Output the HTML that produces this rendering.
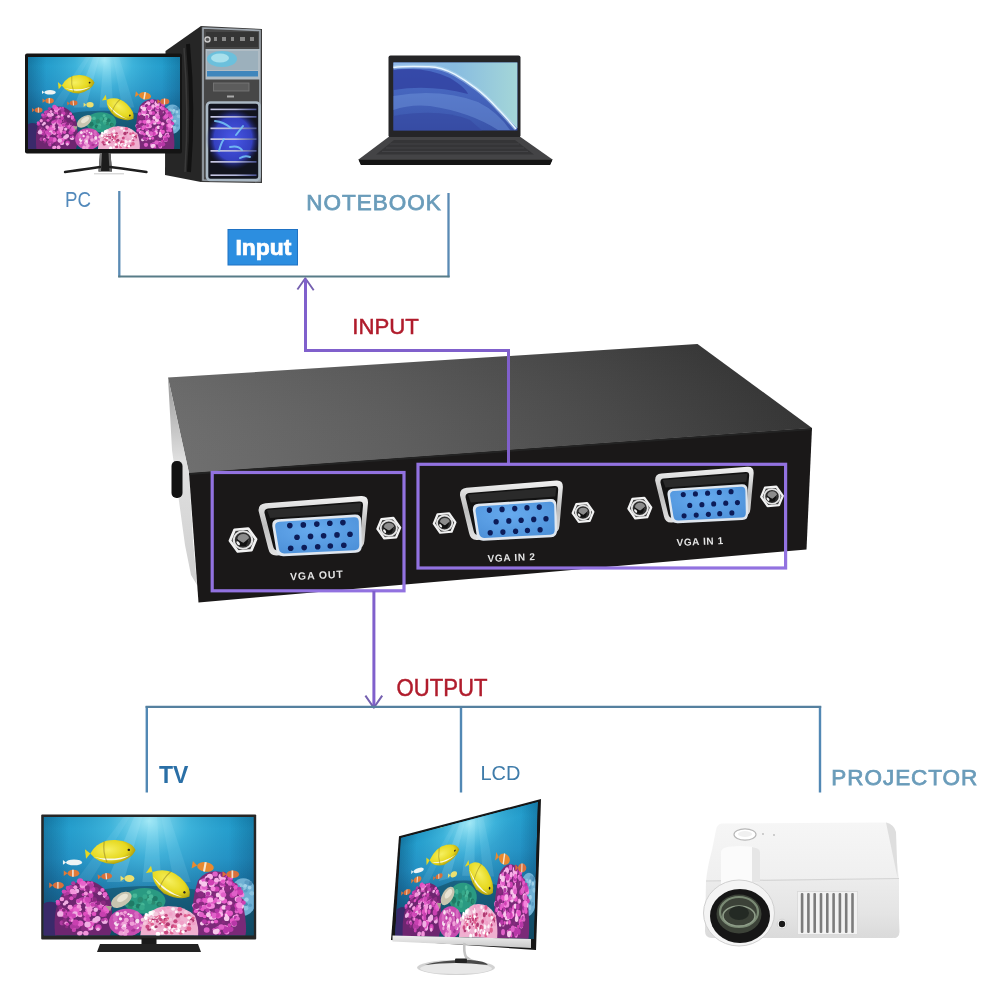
<!DOCTYPE html>
<html><head><meta charset="utf-8"><title>VGA Switch</title>
<style>
html,body{margin:0;padding:0;background:#fff;width:1000px;height:1000px;overflow:hidden}
svg{display:block;filter:blur(0.5px)}
text{font-family:"Liberation Sans",sans-serif}
</style></head><body>
<svg width="1000" height="1000" viewBox="0 0 1000 1000">
<defs>
  <linearGradient id="aqbg" x1="0" y1="0" x2="0" y2="1">
    <stop offset="0" stop-color="#1690c0"/>
    <stop offset="0.1" stop-color="#1c9acb"/>
    <stop offset="0.35" stop-color="#1f8ec2"/>
    <stop offset="0.6" stop-color="#1a72a2"/>
    <stop offset="1" stop-color="#124c6a"/>
  </linearGradient>
  <radialGradient id="aqglow" cx="0.5" cy="0.02" r="0.55" fx="0.5" fy="0.02" gradientTransform="translate(0.5 0) scale(1 1.6) translate(-0.5 0)">
    <stop offset="0" stop-color="#a8ecf8" stop-opacity="0.95"/>
    <stop offset="0.35" stop-color="#58c8e8" stop-opacity="0.55"/>
    <stop offset="1" stop-color="#2a90c0" stop-opacity="0"/>
  </radialGradient>
  <linearGradient id="aqvig" x1="0" y1="0" x2="1" y2="0">
    <stop offset="0" stop-color="#0a3050" stop-opacity="0.3"/>
    <stop offset="0.12" stop-color="#0a3050" stop-opacity="0"/>
    <stop offset="0.88" stop-color="#0a3050" stop-opacity="0"/>
    <stop offset="1" stop-color="#0a3050" stop-opacity="0.25"/>
  </linearGradient>
  <radialGradient id="yfish" cx="0.4" cy="0.4" r="0.6">
    <stop offset="0" stop-color="#f6f060"/>
    <stop offset="0.7" stop-color="#e6d81e"/>
    <stop offset="1" stop-color="#b0a010"/>
  </radialGradient>
  <linearGradient id="lapscr" x1="0" y1="0" x2="0" y2="1">
    <stop offset="0" stop-color="#4a6cc6"/>
    <stop offset="0.5" stop-color="#4564bc"/>
    <stop offset="1" stop-color="#3a54aa"/>
  </linearGradient>
  <linearGradient id="lapsky" x1="0" y1="0" x2="1" y2="0">
    <stop offset="0" stop-color="#90b8e8"/>
    <stop offset="0.5" stop-color="#88bce0"/>
    <stop offset="1" stop-color="#a4d6d8"/>
  </linearGradient>
  <linearGradient id="grill" x1="0" y1="0" x2="1" y2="1">
    <stop offset="0" stop-color="#2434a8"/>
    <stop offset="0.5" stop-color="#3448d0"/>
    <stop offset="1" stop-color="#222e98"/>
  </linearGradient>
  <linearGradient id="projtop" x1="0" y1="0" x2="0" y2="1">
    <stop offset="0" stop-color="#f6f6f6"/>
    <stop offset="1" stop-color="#efefef"/>
  </linearGradient>
  <linearGradient id="projfront" x1="0" y1="0" x2="0" y2="1">
    <stop offset="0" stop-color="#ececec"/>
    <stop offset="0.6" stop-color="#e4e4e4"/>
    <stop offset="1" stop-color="#dadada"/>
  </linearGradient>
  <linearGradient id="bezel" x1="0" y1="0" x2="0" y2="1">
    <stop offset="0" stop-color="#f0f0f0"/>
    <stop offset="1" stop-color="#c8c8c8"/>
  </linearGradient>
  <radialGradient id="grillglow" cx="0.5" cy="0.5" r="0.5">
    <stop offset="0" stop-color="#4858e8"/>
    <stop offset="0.7" stop-color="#3440c0"/>
    <stop offset="1" stop-color="#1a1e60" stop-opacity="0"/>
  </radialGradient>
  <linearGradient id="barg" x1="0" y1="0" x2="1" y2="0">
    <stop offset="0" stop-color="#c8c8e4"/>
    <stop offset="0.55" stop-color="#b0b4d8"/>
    <stop offset="1" stop-color="#4a5290"/>
  </linearGradient>
  <symbol id="aq" viewBox="0 0 1000 600" preserveAspectRatio="none">
<rect width="1000" height="600" fill="url(#aqbg)"/>
<rect width="1000" height="600" fill="url(#aqglow)"/>
<polygon points="430,0 470,0 380,330 300,330" fill="#b8f0ff" opacity="0.18"/>
<polygon points="500,0 540,0 560,330 470,330" fill="#b8f0ff" opacity="0.15"/>
<polygon points="560,0 600,0 700,330 620,330" fill="#b8f0ff" opacity="0.12"/>
<polygon points="380,0 410,0 220,330 150,330" fill="#b8f0ff" opacity="0.1"/>
<rect width="1000" height="600" fill="url(#aqvig)"/>
<ellipse cx="500" cy="580" rx="580" ry="230" fill="#134c62" opacity="0.6"/>
<ellipse cx="480" cy="425" rx="100" ry="65" fill="#2a9a82"/>
<circle cx="464" cy="444" r="13" fill="#36a88a"/>
<circle cx="492" cy="410" r="13" fill="#2a8a70"/>
<circle cx="538" cy="433" r="9" fill="#36a88a"/>
<circle cx="459" cy="421" r="13" fill="#2a8a70"/>
<circle cx="433" cy="394" r="8" fill="#1f7a66"/>
<circle cx="520" cy="433" r="12" fill="#2a8a70"/>
<circle cx="472" cy="445" r="9" fill="#48b898"/>
<circle cx="411" cy="408" r="9" fill="#2a8a70"/>
<circle cx="434" cy="454" r="9" fill="#36a88a"/>
<circle cx="434" cy="399" r="12" fill="#48b898"/>
<circle cx="396" cy="436" r="11" fill="#2a8a70"/>
<circle cx="501" cy="381" r="10" fill="#48b898"/>
<circle cx="397" cy="417" r="14" fill="#48b898"/>
<circle cx="461" cy="416" r="12" fill="#2a8a70"/>
<circle cx="482" cy="404" r="12" fill="#36a88a"/>
<circle cx="504" cy="421" r="12" fill="#48b898"/>
<circle cx="451" cy="452" r="12" fill="#1f7a66"/>
<circle cx="505" cy="432" r="10" fill="#36a88a"/>
<circle cx="550" cy="442" r="13" fill="#1f7a66"/>
<circle cx="468" cy="458" r="13" fill="#36a88a"/>
<circle cx="530" cy="413" r="13" fill="#1f7a66"/>
<circle cx="554" cy="442" r="9" fill="#2a8a70"/>
<circle cx="411" cy="457" r="12" fill="#2a8a70"/>
<circle cx="417" cy="438" r="15" fill="#1f7a66"/>
<circle cx="511" cy="403" r="11" fill="#48b898"/>
<ellipse cx="950" cy="405" rx="65" ry="95" fill="#6fb0d4"/>
<circle cx="936" cy="357" r="9" fill="#8cc4e0"/>
<circle cx="962" cy="442" r="9" fill="#4a8ab4"/>
<circle cx="961" cy="373" r="10" fill="#5a9cc4"/>
<circle cx="921" cy="430" r="11" fill="#5a9cc4"/>
<circle cx="936" cy="348" r="12" fill="#8cc4e0"/>
<circle cx="901" cy="426" r="14" fill="#4a8ab4"/>
<circle cx="922" cy="437" r="11" fill="#4a8ab4"/>
<circle cx="963" cy="413" r="9" fill="#5a9cc4"/>
<circle cx="983" cy="447" r="9" fill="#5a9cc4"/>
<circle cx="898" cy="386" r="12" fill="#8cc4e0"/>
<circle cx="980" cy="358" r="9" fill="#a0d0e8"/>
<circle cx="991" cy="387" r="11" fill="#8cc4e0"/>
<circle cx="982" cy="336" r="11" fill="#4a8ab4"/>
<circle cx="942" cy="435" r="12" fill="#a0d0e8"/>
<circle cx="905" cy="414" r="11" fill="#5a9cc4"/>
<circle cx="988" cy="386" r="9" fill="#8cc4e0"/>
<circle cx="952" cy="359" r="12" fill="#8cc4e0"/>
<circle cx="941" cy="364" r="10" fill="#5a9cc4"/>
<circle cx="934" cy="437" r="11" fill="#a0d0e8"/>
<circle cx="922" cy="355" r="13" fill="#5a9cc4"/>
<circle cx="967" cy="333" r="12" fill="#5a9cc4"/>
<circle cx="962" cy="462" r="12" fill="#8cc4e0"/>
<circle cx="959" cy="348" r="9" fill="#a0d0e8"/>
<circle cx="900" cy="432" r="14" fill="#a0d0e8"/>
<circle cx="965" cy="418" r="11" fill="#a0d0e8"/>
<ellipse cx="30" cy="520" rx="70" ry="90" fill="#3a2a6a"/>
<path d="M55 600 Q40 450 100 375 Q160 305 240 330 Q320 365 325 470 Q335 560 315 600Z" fill="#6e2670"/>
<circle cx="216" cy="562" r="14" fill="#d048b8"/>
<circle cx="88" cy="474" r="14" fill="#e864cc"/>
<circle cx="210" cy="420" r="11" fill="#c840b0"/>
<circle cx="136" cy="468" r="14" fill="#e050c0"/>
<circle cx="292" cy="528" r="13" fill="#f0b0e4"/>
<circle cx="89" cy="536" r="13" fill="#b03aa0"/>
<circle cx="209" cy="459" r="12" fill="#f0b0e4"/>
<circle cx="205" cy="412" r="14" fill="#f0b0e4"/>
<circle cx="147" cy="393" r="12" fill="#b03aa0"/>
<circle cx="299" cy="476" r="13" fill="#e864cc"/>
<circle cx="69" cy="438" r="11" fill="#c840b0"/>
<circle cx="214" cy="405" r="10" fill="#f496dc"/>
<circle cx="79" cy="459" r="10" fill="#8a2a80"/>
<circle cx="204" cy="431" r="13" fill="#f0b0e4"/>
<circle cx="129" cy="356" r="12" fill="#b03aa0"/>
<circle cx="99" cy="441" r="8" fill="#f0b0e4"/>
<circle cx="204" cy="356" r="13" fill="#b03aa0"/>
<circle cx="228" cy="542" r="13" fill="#d048b8"/>
<circle cx="147" cy="546" r="12" fill="#e864cc"/>
<circle cx="210" cy="438" r="9" fill="#d048b8"/>
<circle cx="200" cy="365" r="12" fill="#e864cc"/>
<circle cx="96" cy="497" r="12" fill="#c840b0"/>
<circle cx="158" cy="375" r="12" fill="#f0b0e4"/>
<circle cx="126" cy="457" r="12" fill="#f496dc"/>
<circle cx="292" cy="401" r="9" fill="#f0b0e4"/>
<circle cx="216" cy="496" r="11" fill="#e864cc"/>
<circle cx="149" cy="382" r="9" fill="#f496dc"/>
<circle cx="213" cy="335" r="9" fill="#e050c0"/>
<circle cx="261" cy="559" r="15" fill="#c840b0"/>
<circle cx="187" cy="419" r="14" fill="#b03aa0"/>
<circle cx="302" cy="452" r="9" fill="#8a2a80"/>
<circle cx="267" cy="457" r="11" fill="#e050c0"/>
<circle cx="144" cy="564" r="8" fill="#f0b0e4"/>
<circle cx="172" cy="467" r="10" fill="#f496dc"/>
<circle cx="156" cy="457" r="15" fill="#c840b0"/>
<circle cx="228" cy="452" r="10" fill="#d048b8"/>
<circle cx="232" cy="428" r="13" fill="#8a2a80"/>
<circle cx="248" cy="370" r="15" fill="#8a2a80"/>
<circle cx="259" cy="564" r="12" fill="#e050c0"/>
<circle cx="213" cy="477" r="13" fill="#8a2a80"/>
<circle cx="239" cy="417" r="8" fill="#e864cc"/>
<circle cx="200" cy="423" r="14" fill="#e864cc"/>
<circle cx="184" cy="507" r="8" fill="#8a2a80"/>
<circle cx="246" cy="429" r="9" fill="#c840b0"/>
<circle cx="302" cy="410" r="10" fill="#b03aa0"/>
<circle cx="209" cy="532" r="10" fill="#c840b0"/>
<circle cx="166" cy="552" r="9" fill="#e050c0"/>
<circle cx="229" cy="333" r="8" fill="#d048b8"/>
<circle cx="178" cy="360" r="9" fill="#f0b0e4"/>
<circle cx="190" cy="550" r="13" fill="#8a2a80"/>
<circle cx="137" cy="377" r="14" fill="#f496dc"/>
<circle cx="141" cy="336" r="10" fill="#b03aa0"/>
<circle cx="127" cy="505" r="8" fill="#b03aa0"/>
<circle cx="286" cy="470" r="14" fill="#8a2a80"/>
<circle cx="207" cy="494" r="14" fill="#f496dc"/>
<circle cx="103" cy="395" r="8" fill="#b03aa0"/>
<circle cx="234" cy="535" r="10" fill="#e050c0"/>
<circle cx="279" cy="443" r="10" fill="#f496dc"/>
<circle cx="199" cy="517" r="10" fill="#e864cc"/>
<circle cx="100" cy="475" r="9" fill="#d048b8"/>
<circle cx="283" cy="526" r="9" fill="#d048b8"/>
<circle cx="134" cy="506" r="12" fill="#e864cc"/>
<circle cx="110" cy="410" r="13" fill="#8a2a80"/>
<circle cx="198" cy="346" r="11" fill="#f496dc"/>
<circle cx="172" cy="353" r="8" fill="#8a2a80"/>
<circle cx="177" cy="339" r="9" fill="#d048b8"/>
<circle cx="232" cy="368" r="14" fill="#c840b0"/>
<circle cx="210" cy="474" r="12" fill="#e864cc"/>
<circle cx="128" cy="523" r="8" fill="#d048b8"/>
<circle cx="116" cy="381" r="11" fill="#d048b8"/>
<circle cx="156" cy="470" r="15" fill="#e864cc"/>
<circle cx="171" cy="431" r="13" fill="#f496dc"/>
<circle cx="230" cy="344" r="10" fill="#c840b0"/>
<circle cx="200" cy="568" r="11" fill="#8a2a80"/>
<circle cx="294" cy="520" r="10" fill="#d048b8"/>
<circle cx="114" cy="387" r="9" fill="#b03aa0"/>
<circle cx="138" cy="555" r="13" fill="#b03aa0"/>
<circle cx="219" cy="463" r="10" fill="#e864cc"/>
<circle cx="151" cy="356" r="10" fill="#f496dc"/>
<circle cx="105" cy="480" r="9" fill="#c840b0"/>
<circle cx="174" cy="497" r="11" fill="#f496dc"/>
<circle cx="79" cy="491" r="15" fill="#f0b0e4"/>
<circle cx="266" cy="457" r="14" fill="#c840b0"/>
<circle cx="222" cy="478" r="13" fill="#f496dc"/>
<circle cx="232" cy="446" r="14" fill="#f496dc"/>
<circle cx="267" cy="386" r="10" fill="#f0b0e4"/>
<circle cx="149" cy="493" r="15" fill="#f0b0e4"/>
<circle cx="100" cy="524" r="11" fill="#8a2a80"/>
<circle cx="142" cy="573" r="8" fill="#e050c0"/>
<circle cx="211" cy="420" r="14" fill="#d048b8"/>
<circle cx="243" cy="418" r="11" fill="#8a2a80"/>
<circle cx="98" cy="540" r="9" fill="#8a2a80"/>
<circle cx="192" cy="335" r="10" fill="#d048b8"/>
<circle cx="222" cy="398" r="15" fill="#c840b0"/>
<circle cx="269" cy="444" r="10" fill="#e050c0"/>
<circle cx="206" cy="374" r="8" fill="#8a2a80"/>
<circle cx="292" cy="392" r="12" fill="#e864cc"/>
<circle cx="290" cy="495" r="11" fill="#b03aa0"/>
<circle cx="147" cy="403" r="8" fill="#b03aa0"/>
<circle cx="226" cy="536" r="10" fill="#f496dc"/>
<circle cx="179" cy="327" r="10" fill="#c840b0"/>
<circle cx="159" cy="556" r="11" fill="#b03aa0"/>
<circle cx="167" cy="431" r="12" fill="#f0b0e4"/>
<circle cx="108" cy="432" r="10" fill="#f0b0e4"/>
<circle cx="105" cy="504" r="10" fill="#b03aa0"/>
<circle cx="167" cy="494" r="10" fill="#f496dc"/>
<circle cx="208" cy="403" r="8" fill="#8a2a80"/>
<circle cx="108" cy="538" r="9" fill="#f496dc"/>
<circle cx="172" cy="489" r="10" fill="#e050c0"/>
<circle cx="250" cy="528" r="12" fill="#c840b0"/>
<circle cx="287" cy="530" r="11" fill="#f0b0e4"/>
<circle cx="124" cy="491" r="14" fill="#d048b8"/>
<circle cx="245" cy="523" r="13" fill="#f0b0e4"/>
<circle cx="274" cy="441" r="9" fill="#f0b0e4"/>
<circle cx="249" cy="448" r="9" fill="#b03aa0"/>
<circle cx="259" cy="569" r="9" fill="#f0b0e4"/>
<circle cx="283" cy="521" r="8" fill="#b03aa0"/>
<circle cx="201" cy="589" r="13" fill="#f496dc"/>
<circle cx="284" cy="435" r="12" fill="#8a2a80"/>
<circle cx="175" cy="417" r="8" fill="#c840b0"/>
<circle cx="143" cy="501" r="12" fill="#d048b8"/>
<circle cx="67" cy="429" r="10" fill="#e050c0"/>
<circle cx="116" cy="360" r="11" fill="#c840b0"/>
<circle cx="168" cy="453" r="11" fill="#f496dc"/>
<circle cx="240" cy="480" r="14" fill="#8a2a80"/>
<circle cx="240" cy="491" r="11" fill="#e050c0"/>
<circle cx="191" cy="485" r="10" fill="#8a2a80"/>
<circle cx="137" cy="525" r="8" fill="#f496dc"/>
<circle cx="182" cy="364" r="9" fill="#c840b0"/>
<circle cx="145" cy="573" r="10" fill="#c840b0"/>
<circle cx="177" cy="587" r="9" fill="#f0b0e4"/>
<circle cx="97" cy="378" r="11" fill="#d048b8"/>
<circle cx="233" cy="444" r="11" fill="#c840b0"/>
<circle cx="283" cy="475" r="11" fill="#d048b8"/>
<circle cx="222" cy="543" r="13" fill="#e050c0"/>
<circle cx="174" cy="326" r="15" fill="#e050c0"/>
<circle cx="225" cy="562" r="12" fill="#f0b0e4"/>
<circle cx="288" cy="482" r="11" fill="#e050c0"/>
<circle cx="271" cy="452" r="9" fill="#e864cc"/>
<circle cx="174" cy="539" r="15" fill="#e864cc"/>
<circle cx="87" cy="416" r="11" fill="#f496dc"/>
<circle cx="224" cy="380" r="8" fill="#f0b0e4"/>
<circle cx="219" cy="554" r="11" fill="#e050c0"/>
<circle cx="110" cy="556" r="8" fill="#8a2a80"/>
<circle cx="189" cy="567" r="11" fill="#8a2a80"/>
<circle cx="219" cy="467" r="14" fill="#f496dc"/>
<circle cx="199" cy="492" r="12" fill="#e050c0"/>
<circle cx="171" cy="591" r="12" fill="#f496dc"/>
<circle cx="186" cy="348" r="14" fill="#f496dc"/>
<circle cx="297" cy="463" r="14" fill="#e864cc"/>
<circle cx="248" cy="470" r="11" fill="#f0b0e4"/>
<circle cx="262" cy="436" r="10" fill="#8a2a80"/>
<circle cx="206" cy="415" r="11" fill="#d048b8"/>
<circle cx="223" cy="350" r="14" fill="#b03aa0"/>
<circle cx="132" cy="412" r="10" fill="#e050c0"/>
<circle cx="208" cy="358" r="12" fill="#8a2a80"/>
<circle cx="189" cy="393" r="8" fill="#d048b8"/>
<circle cx="96" cy="471" r="9" fill="#8a2a80"/>
<circle cx="280" cy="370" r="10" fill="#e864cc"/>
<circle cx="209" cy="545" r="15" fill="#f0b0e4"/>
<circle cx="209" cy="504" r="11" fill="#c840b0"/>
<circle cx="187" cy="336" r="13" fill="#e864cc"/>
<circle cx="201" cy="388" r="10" fill="#f496dc"/>
<circle cx="113" cy="543" r="9" fill="#c840b0"/>
<circle cx="212" cy="520" r="10" fill="#c840b0"/>
<circle cx="152" cy="535" r="15" fill="#c840b0"/>
<circle cx="165" cy="425" r="11" fill="#d048b8"/>
<circle cx="257" cy="516" r="14" fill="#f0b0e4"/>
<circle cx="210" cy="446" r="10" fill="#e864cc"/>
<circle cx="280" cy="493" r="14" fill="#c840b0"/>
<ellipse cx="395" cy="535" rx="85" ry="70" fill="#c84cb0"/>
<circle cx="436" cy="519" r="12" fill="#a83494"/>
<circle cx="342" cy="503" r="11" fill="#d868c0"/>
<circle cx="441" cy="564" r="10" fill="#c44cb0"/>
<circle cx="438" cy="543" r="6" fill="#f0a0d8"/>
<circle cx="457" cy="547" r="12" fill="#d868c0"/>
<circle cx="415" cy="500" r="9" fill="#f8e0f0"/>
<circle cx="382" cy="560" r="12" fill="#f8e0f0"/>
<circle cx="347" cy="539" r="12" fill="#f8e0f0"/>
<circle cx="426" cy="571" r="11" fill="#a83494"/>
<circle cx="379" cy="499" r="8" fill="#f0a0d8"/>
<circle cx="380" cy="542" r="11" fill="#f0a0d8"/>
<circle cx="386" cy="539" r="11" fill="#f0a0d8"/>
<circle cx="366" cy="505" r="9" fill="#d868c0"/>
<circle cx="368" cy="545" r="7" fill="#d868c0"/>
<circle cx="336" cy="566" r="9" fill="#c44cb0"/>
<circle cx="407" cy="545" r="7" fill="#a83494"/>
<circle cx="445" cy="560" r="9" fill="#f8e0f0"/>
<circle cx="416" cy="566" r="7" fill="#c44cb0"/>
<circle cx="417" cy="526" r="9" fill="#c44cb0"/>
<circle cx="373" cy="587" r="6" fill="#a83494"/>
<circle cx="372" cy="578" r="10" fill="#d868c0"/>
<circle cx="444" cy="508" r="12" fill="#c44cb0"/>
<circle cx="351" cy="492" r="10" fill="#f8e0f0"/>
<circle cx="434" cy="490" r="7" fill="#c44cb0"/>
<circle cx="465" cy="550" r="7" fill="#f0a0d8"/>
<circle cx="422" cy="556" r="11" fill="#c44cb0"/>
<circle cx="449" cy="546" r="11" fill="#d868c0"/>
<circle cx="374" cy="505" r="9" fill="#a83494"/>
<circle cx="339" cy="520" r="8" fill="#a83494"/>
<circle cx="382" cy="563" r="9" fill="#f0a0d8"/>
<circle cx="348" cy="548" r="6" fill="#f8e0f0"/>
<circle cx="446" cy="531" r="9" fill="#f8e0f0"/>
<circle cx="405" cy="495" r="7" fill="#a83494"/>
<circle cx="379" cy="544" r="9" fill="#f0a0d8"/>
<circle cx="437" cy="557" r="10" fill="#d868c0"/>
<circle cx="421" cy="540" r="12" fill="#f0a0d8"/>
<circle cx="404" cy="493" r="6" fill="#f8e0f0"/>
<circle cx="443" cy="505" r="11" fill="#d868c0"/>
<circle cx="442" cy="488" r="11" fill="#d868c0"/>
<circle cx="421" cy="591" r="9" fill="#c44cb0"/>
<circle cx="370" cy="488" r="8" fill="#f0a0d8"/>
<circle cx="366" cy="516" r="8" fill="#f8e0f0"/>
<circle cx="384" cy="589" r="7" fill="#f8e0f0"/>
<circle cx="446" cy="526" r="10" fill="#f8e0f0"/>
<circle cx="353" cy="534" r="6" fill="#c44cb0"/>
<circle cx="346" cy="562" r="8" fill="#f0a0d8"/>
<circle cx="419" cy="520" r="11" fill="#d868c0"/>
<circle cx="397" cy="522" r="12" fill="#a83494"/>
<circle cx="341" cy="519" r="12" fill="#d868c0"/>
<circle cx="394" cy="579" r="12" fill="#f0a0d8"/>
<circle cx="388" cy="594" r="10" fill="#f0a0d8"/>
<circle cx="385" cy="550" r="8" fill="#f8e0f0"/>
<circle cx="394" cy="522" r="12" fill="#f0a0d8"/>
<circle cx="368" cy="590" r="12" fill="#f0a0d8"/>
<circle cx="388" cy="483" r="8" fill="#f0a0d8"/>
<path d="M715 600 Q695 440 735 320 Q785 255 860 285 Q930 330 950 450 Q970 560 960 600Z" fill="#7a2a78"/>
<circle cx="777" cy="372" r="12" fill="#e858c8"/>
<circle cx="873" cy="495" r="13" fill="#e858c8"/>
<circle cx="919" cy="479" r="10" fill="#e060c8"/>
<circle cx="761" cy="419" r="10" fill="#d040b4"/>
<circle cx="861" cy="557" r="11" fill="#d040b4"/>
<circle cx="940" cy="452" r="13" fill="#f8c8ec"/>
<circle cx="913" cy="510" r="14" fill="#fab0e8"/>
<circle cx="785" cy="486" r="8" fill="#e060c8"/>
<circle cx="761" cy="374" r="12" fill="#f8c8ec"/>
<circle cx="836" cy="587" r="8" fill="#e858c8"/>
<circle cx="787" cy="482" r="8" fill="#f484dc"/>
<circle cx="922" cy="449" r="15" fill="#d040b4"/>
<circle cx="762" cy="498" r="12" fill="#8a2a80"/>
<circle cx="854" cy="380" r="10" fill="#fab0e8"/>
<circle cx="752" cy="330" r="13" fill="#f8c8ec"/>
<circle cx="833" cy="428" r="14" fill="#f8c8ec"/>
<circle cx="919" cy="501" r="9" fill="#f484dc"/>
<circle cx="828" cy="564" r="9" fill="#fab0e8"/>
<circle cx="820" cy="362" r="12" fill="#8a2a80"/>
<circle cx="791" cy="303" r="15" fill="#fab0e8"/>
<circle cx="762" cy="321" r="10" fill="#e858c8"/>
<circle cx="889" cy="569" r="14" fill="#b838a8"/>
<circle cx="931" cy="394" r="10" fill="#8a2a80"/>
<circle cx="808" cy="507" r="14" fill="#f8c8ec"/>
<circle cx="750" cy="460" r="8" fill="#e858c8"/>
<circle cx="742" cy="491" r="12" fill="#fab0e8"/>
<circle cx="853" cy="346" r="12" fill="#d040b4"/>
<circle cx="847" cy="460" r="9" fill="#d040b4"/>
<circle cx="810" cy="488" r="8" fill="#e858c8"/>
<circle cx="896" cy="535" r="8" fill="#f484dc"/>
<circle cx="832" cy="400" r="12" fill="#e060c8"/>
<circle cx="871" cy="584" r="12" fill="#f484dc"/>
<circle cx="910" cy="348" r="13" fill="#8a2a80"/>
<circle cx="877" cy="484" r="9" fill="#e858c8"/>
<circle cx="942" cy="394" r="13" fill="#f484dc"/>
<circle cx="878" cy="330" r="10" fill="#f484dc"/>
<circle cx="906" cy="542" r="13" fill="#fab0e8"/>
<circle cx="803" cy="532" r="8" fill="#fab0e8"/>
<circle cx="858" cy="425" r="13" fill="#e060c8"/>
<circle cx="846" cy="321" r="11" fill="#fab0e8"/>
<circle cx="820" cy="422" r="11" fill="#8a2a80"/>
<circle cx="798" cy="434" r="11" fill="#e858c8"/>
<circle cx="782" cy="423" r="14" fill="#f484dc"/>
<circle cx="779" cy="403" r="11" fill="#b838a8"/>
<circle cx="811" cy="570" r="8" fill="#e060c8"/>
<circle cx="752" cy="446" r="14" fill="#d040b4"/>
<circle cx="924" cy="416" r="15" fill="#fab0e8"/>
<circle cx="794" cy="411" r="14" fill="#b838a8"/>
<circle cx="796" cy="441" r="12" fill="#f484dc"/>
<circle cx="718" cy="449" r="12" fill="#f484dc"/>
<circle cx="786" cy="373" r="11" fill="#8a2a80"/>
<circle cx="914" cy="356" r="11" fill="#e858c8"/>
<circle cx="790" cy="501" r="11" fill="#d040b4"/>
<circle cx="754" cy="540" r="10" fill="#f8c8ec"/>
<circle cx="899" cy="525" r="13" fill="#e858c8"/>
<circle cx="796" cy="512" r="9" fill="#f8c8ec"/>
<circle cx="782" cy="326" r="9" fill="#f8c8ec"/>
<circle cx="813" cy="367" r="10" fill="#e060c8"/>
<circle cx="727" cy="474" r="10" fill="#b838a8"/>
<circle cx="824" cy="574" r="14" fill="#d040b4"/>
<circle cx="816" cy="289" r="13" fill="#e060c8"/>
<circle cx="871" cy="515" r="9" fill="#f484dc"/>
<circle cx="884" cy="548" r="9" fill="#d040b4"/>
<circle cx="940" cy="426" r="13" fill="#8a2a80"/>
<circle cx="829" cy="491" r="14" fill="#fab0e8"/>
<circle cx="855" cy="533" r="8" fill="#8a2a80"/>
<circle cx="883" cy="359" r="10" fill="#fab0e8"/>
<circle cx="792" cy="453" r="12" fill="#8a2a80"/>
<circle cx="893" cy="443" r="14" fill="#8a2a80"/>
<circle cx="890" cy="336" r="13" fill="#b838a8"/>
<circle cx="795" cy="328" r="11" fill="#e060c8"/>
<circle cx="829" cy="569" r="14" fill="#b838a8"/>
<circle cx="855" cy="312" r="12" fill="#fab0e8"/>
<circle cx="883" cy="353" r="8" fill="#8a2a80"/>
<circle cx="740" cy="426" r="14" fill="#e060c8"/>
<circle cx="848" cy="345" r="11" fill="#f484dc"/>
<circle cx="919" cy="467" r="9" fill="#b838a8"/>
<circle cx="798" cy="434" r="12" fill="#b838a8"/>
<circle cx="818" cy="331" r="12" fill="#e060c8"/>
<circle cx="760" cy="427" r="15" fill="#b838a8"/>
<circle cx="885" cy="436" r="12" fill="#f484dc"/>
<circle cx="823" cy="320" r="12" fill="#fab0e8"/>
<circle cx="824" cy="537" r="8" fill="#8a2a80"/>
<circle cx="916" cy="378" r="13" fill="#fab0e8"/>
<circle cx="885" cy="494" r="11" fill="#b838a8"/>
<circle cx="951" cy="434" r="11" fill="#d040b4"/>
<circle cx="907" cy="539" r="14" fill="#b838a8"/>
<circle cx="748" cy="462" r="10" fill="#d040b4"/>
<circle cx="778" cy="539" r="14" fill="#8a2a80"/>
<circle cx="772" cy="457" r="12" fill="#d040b4"/>
<circle cx="850" cy="336" r="13" fill="#b838a8"/>
<circle cx="827" cy="534" r="10" fill="#8a2a80"/>
<circle cx="800" cy="343" r="14" fill="#fab0e8"/>
<circle cx="775" cy="538" r="10" fill="#f8c8ec"/>
<circle cx="750" cy="494" r="13" fill="#e060c8"/>
<circle cx="872" cy="510" r="11" fill="#f484dc"/>
<circle cx="888" cy="310" r="13" fill="#d040b4"/>
<circle cx="767" cy="423" r="12" fill="#e858c8"/>
<circle cx="843" cy="480" r="10" fill="#f484dc"/>
<circle cx="739" cy="372" r="9" fill="#f8c8ec"/>
<circle cx="809" cy="490" r="14" fill="#d040b4"/>
<circle cx="759" cy="358" r="15" fill="#f484dc"/>
<circle cx="780" cy="312" r="14" fill="#fab0e8"/>
<circle cx="867" cy="562" r="12" fill="#f8c8ec"/>
<circle cx="816" cy="393" r="9" fill="#8a2a80"/>
<circle cx="839" cy="498" r="11" fill="#e858c8"/>
<circle cx="723" cy="454" r="13" fill="#b838a8"/>
<circle cx="748" cy="441" r="14" fill="#e858c8"/>
<circle cx="871" cy="514" r="13" fill="#f8c8ec"/>
<circle cx="780" cy="318" r="11" fill="#8a2a80"/>
<circle cx="932" cy="440" r="9" fill="#e060c8"/>
<circle cx="822" cy="420" r="12" fill="#e060c8"/>
<circle cx="848" cy="396" r="11" fill="#d040b4"/>
<circle cx="933" cy="468" r="12" fill="#e060c8"/>
<circle cx="914" cy="510" r="10" fill="#b838a8"/>
<circle cx="820" cy="529" r="10" fill="#e858c8"/>
<circle cx="865" cy="366" r="14" fill="#8a2a80"/>
<circle cx="776" cy="573" r="14" fill="#e060c8"/>
<circle cx="929" cy="420" r="14" fill="#e060c8"/>
<circle cx="870" cy="562" r="9" fill="#f484dc"/>
<circle cx="840" cy="410" r="13" fill="#8a2a80"/>
<circle cx="810" cy="430" r="10" fill="#e858c8"/>
<circle cx="937" cy="480" r="11" fill="#e858c8"/>
<circle cx="862" cy="297" r="12" fill="#d040b4"/>
<circle cx="766" cy="347" r="12" fill="#f484dc"/>
<circle cx="857" cy="563" r="11" fill="#d040b4"/>
<circle cx="875" cy="479" r="8" fill="#f484dc"/>
<circle cx="917" cy="375" r="11" fill="#d040b4"/>
<circle cx="855" cy="327" r="10" fill="#fab0e8"/>
<circle cx="844" cy="466" r="8" fill="#e858c8"/>
<circle cx="750" cy="442" r="14" fill="#8a2a80"/>
<circle cx="734" cy="372" r="11" fill="#e858c8"/>
<circle cx="796" cy="332" r="15" fill="#d040b4"/>
<circle cx="760" cy="455" r="9" fill="#f8c8ec"/>
<circle cx="846" cy="499" r="8" fill="#e858c8"/>
<circle cx="931" cy="447" r="15" fill="#f484dc"/>
<circle cx="843" cy="493" r="11" fill="#fab0e8"/>
<circle cx="824" cy="365" r="13" fill="#d040b4"/>
<circle cx="898" cy="396" r="13" fill="#d040b4"/>
<circle cx="831" cy="395" r="12" fill="#f8c8ec"/>
<circle cx="725" cy="477" r="10" fill="#e858c8"/>
<circle cx="832" cy="424" r="8" fill="#f484dc"/>
<circle cx="784" cy="496" r="12" fill="#f8c8ec"/>
<circle cx="784" cy="385" r="15" fill="#f8c8ec"/>
<circle cx="788" cy="452" r="15" fill="#f484dc"/>
<circle cx="773" cy="534" r="12" fill="#8a2a80"/>
<circle cx="732" cy="460" r="11" fill="#fab0e8"/>
<circle cx="854" cy="326" r="10" fill="#e858c8"/>
<circle cx="766" cy="353" r="14" fill="#e060c8"/>
<circle cx="904" cy="343" r="8" fill="#d040b4"/>
<circle cx="782" cy="389" r="11" fill="#b838a8"/>
<circle cx="765" cy="530" r="12" fill="#b838a8"/>
<circle cx="857" cy="363" r="8" fill="#fab0e8"/>
<circle cx="830" cy="501" r="14" fill="#e858c8"/>
<circle cx="824" cy="496" r="14" fill="#d040b4"/>
<circle cx="819" cy="581" r="14" fill="#f8c8ec"/>
<circle cx="815" cy="477" r="12" fill="#8a2a80"/>
<circle cx="866" cy="568" r="15" fill="#b838a8"/>
<circle cx="825" cy="475" r="11" fill="#b838a8"/>
<circle cx="916" cy="387" r="8" fill="#8a2a80"/>
<circle cx="801" cy="451" r="14" fill="#f484dc"/>
<circle cx="845" cy="557" r="14" fill="#e060c8"/>
<circle cx="745" cy="457" r="9" fill="#b838a8"/>
<circle cx="924" cy="516" r="10" fill="#e060c8"/>
<circle cx="766" cy="504" r="9" fill="#e858c8"/>
<circle cx="908" cy="389" r="14" fill="#e060c8"/>
<circle cx="765" cy="338" r="9" fill="#e858c8"/>
<circle cx="787" cy="532" r="8" fill="#e858c8"/>
<circle cx="866" cy="579" r="12" fill="#b838a8"/>
<circle cx="827" cy="576" r="11" fill="#f8c8ec"/>
<circle cx="847" cy="301" r="15" fill="#fab0e8"/>
<circle cx="873" cy="365" r="15" fill="#8a2a80"/>
<circle cx="858" cy="458" r="12" fill="#f8c8ec"/>
<circle cx="727" cy="452" r="14" fill="#8a2a80"/>
<circle cx="923" cy="379" r="9" fill="#e060c8"/>
<circle cx="748" cy="391" r="15" fill="#8a2a80"/>
<circle cx="880" cy="570" r="11" fill="#b838a8"/>
<circle cx="890" cy="436" r="8" fill="#fab0e8"/>
<circle cx="862" cy="426" r="12" fill="#e858c8"/>
<circle cx="848" cy="411" r="14" fill="#f8c8ec"/>
<circle cx="877" cy="460" r="13" fill="#b838a8"/>
<circle cx="806" cy="364" r="12" fill="#f484dc"/>
<circle cx="764" cy="457" r="11" fill="#e060c8"/>
<circle cx="787" cy="447" r="10" fill="#d040b4"/>
<circle cx="931" cy="365" r="11" fill="#b838a8"/>
<circle cx="849" cy="381" r="14" fill="#f484dc"/>
<circle cx="936" cy="382" r="14" fill="#d040b4"/>
<circle cx="855" cy="291" r="14" fill="#8a2a80"/>
<circle cx="886" cy="337" r="11" fill="#e060c8"/>
<circle cx="810" cy="507" r="9" fill="#e060c8"/>
<circle cx="870" cy="497" r="8" fill="#f8c8ec"/>
<circle cx="793" cy="421" r="14" fill="#fab0e8"/>
<circle cx="784" cy="478" r="8" fill="#fab0e8"/>
<circle cx="811" cy="495" r="11" fill="#e060c8"/>
<circle cx="756" cy="469" r="9" fill="#e858c8"/>
<circle cx="764" cy="339" r="14" fill="#f8c8ec"/>
<circle cx="856" cy="394" r="13" fill="#e060c8"/>
<circle cx="780" cy="473" r="10" fill="#b838a8"/>
<circle cx="887" cy="488" r="14" fill="#e858c8"/>
<circle cx="893" cy="307" r="9" fill="#e858c8"/>
<path d="M460 600 Q470 480 560 455 Q660 440 720 500 Q740 560 735 600Z" fill="#f0b0d0"/>
<circle cx="512" cy="548" r="9" fill="#e06090"/>
<circle cx="709" cy="531" r="9" fill="#f4c8dc"/>
<circle cx="579" cy="541" r="8" fill="#f0a0c8"/>
<circle cx="553" cy="519" r="7" fill="#b03870"/>
<circle cx="601" cy="559" r="10" fill="#b03870"/>
<circle cx="678" cy="559" r="9" fill="#f0a0c8"/>
<circle cx="616" cy="553" r="10" fill="#c84880"/>
<circle cx="631" cy="481" r="7" fill="#fbeef4"/>
<circle cx="563" cy="483" r="11" fill="#fbeef4"/>
<circle cx="522" cy="525" r="8" fill="#c84880"/>
<circle cx="653" cy="493" r="6" fill="#b03870"/>
<circle cx="480" cy="540" r="8" fill="#f4c8dc"/>
<circle cx="481" cy="503" r="6" fill="#c84880"/>
<circle cx="528" cy="569" r="6" fill="#ffffff"/>
<circle cx="707" cy="501" r="6" fill="#f0a0c8"/>
<circle cx="570" cy="468" r="11" fill="#f0a0c8"/>
<circle cx="616" cy="466" r="9" fill="#fbeef4"/>
<circle cx="584" cy="552" r="10" fill="#e06090"/>
<circle cx="504" cy="526" r="9" fill="#fbeef4"/>
<circle cx="597" cy="551" r="10" fill="#f4c8dc"/>
<circle cx="645" cy="551" r="11" fill="#fbeef4"/>
<circle cx="714" cy="538" r="10" fill="#f0a0c8"/>
<circle cx="691" cy="536" r="9" fill="#ffffff"/>
<circle cx="601" cy="577" r="8" fill="#fbeef4"/>
<circle cx="590" cy="515" r="7" fill="#e06090"/>
<circle cx="501" cy="499" r="7" fill="#fbeef4"/>
<circle cx="557" cy="544" r="10" fill="#b03870"/>
<circle cx="610" cy="587" r="9" fill="#e06090"/>
<circle cx="653" cy="585" r="12" fill="#e06090"/>
<circle cx="562" cy="479" r="10" fill="#fbeef4"/>
<circle cx="499" cy="571" r="11" fill="#f0a0c8"/>
<circle cx="502" cy="567" r="10" fill="#b03870"/>
<circle cx="706" cy="523" r="11" fill="#b03870"/>
<circle cx="519" cy="561" r="8" fill="#f4c8dc"/>
<circle cx="712" cy="512" r="7" fill="#e06090"/>
<circle cx="588" cy="524" r="7" fill="#f4c8dc"/>
<circle cx="670" cy="549" r="9" fill="#fbeef4"/>
<circle cx="607" cy="575" r="8" fill="#e06090"/>
<circle cx="520" cy="483" r="11" fill="#fbeef4"/>
<circle cx="693" cy="542" r="8" fill="#c84880"/>
<circle cx="524" cy="491" r="11" fill="#fbeef4"/>
<circle cx="550" cy="506" r="9" fill="#e06090"/>
<circle cx="597" cy="544" r="7" fill="#f0a0c8"/>
<circle cx="569" cy="511" r="10" fill="#ffffff"/>
<circle cx="625" cy="518" r="10" fill="#f4c8dc"/>
<circle cx="512" cy="548" r="11" fill="#e06090"/>
<circle cx="537" cy="513" r="10" fill="#c84880"/>
<circle cx="485" cy="512" r="10" fill="#ffffff"/>
<circle cx="609" cy="573" r="9" fill="#f0a0c8"/>
<circle cx="505" cy="543" r="10" fill="#e06090"/>
<circle cx="604" cy="519" r="8" fill="#f4c8dc"/>
<circle cx="518" cy="527" r="10" fill="#fbeef4"/>
<circle cx="640" cy="517" r="12" fill="#f0a0c8"/>
<circle cx="513" cy="513" r="8" fill="#f4c8dc"/>
<circle cx="564" cy="589" r="7" fill="#fbeef4"/>
<circle cx="537" cy="505" r="10" fill="#ffffff"/>
<circle cx="532" cy="560" r="10" fill="#fbeef4"/>
<circle cx="472" cy="521" r="10" fill="#f4c8dc"/>
<circle cx="506" cy="559" r="7" fill="#f4c8dc"/>
<circle cx="509" cy="487" r="11" fill="#ffffff"/>
<circle cx="691" cy="566" r="12" fill="#e06090"/>
<circle cx="583" cy="585" r="10" fill="#c84880"/>
<circle cx="676" cy="577" r="6" fill="#b03870"/>
<circle cx="554" cy="523" r="8" fill="#ffffff"/>
<circle cx="663" cy="582" r="8" fill="#ffffff"/>
<circle cx="535" cy="503" r="9" fill="#e06090"/>
<circle cx="577" cy="570" r="8" fill="#ffffff"/>
<circle cx="522" cy="515" r="8" fill="#b03870"/>
<circle cx="592" cy="460" r="8" fill="#f0a0c8"/>
<circle cx="623" cy="565" r="7" fill="#ffffff"/>
<circle cx="552" cy="554" r="11" fill="#f0a0c8"/>
<circle cx="544" cy="587" r="11" fill="#f0a0c8"/>
<circle cx="618" cy="574" r="11" fill="#fbeef4"/>
<circle cx="657" cy="536" r="11" fill="#f0a0c8"/>
<circle cx="691" cy="500" r="9" fill="#e06090"/>
<circle cx="506" cy="524" r="10" fill="#e06090"/>
<circle cx="570" cy="533" r="10" fill="#e06090"/>
<circle cx="692" cy="511" r="9" fill="#fbeef4"/>
<circle cx="520" cy="557" r="10" fill="#ffffff"/>
<circle cx="626" cy="555" r="9" fill="#e06090"/>
<circle cx="503" cy="550" r="12" fill="#f0a0c8"/>
<circle cx="556" cy="474" r="7" fill="#f0a0c8"/>
<circle cx="544" cy="593" r="11" fill="#ffffff"/>
<circle cx="641" cy="581" r="8" fill="#f0a0c8"/>
<circle cx="648" cy="467" r="11" fill="#e06090"/>
<circle cx="534" cy="493" r="11" fill="#f4c8dc"/>
<circle cx="541" cy="529" r="7" fill="#c84880"/>
<circle cx="558" cy="521" r="9" fill="#c84880"/>
<circle cx="578" cy="519" r="8" fill="#b03870"/>
<circle cx="700" cy="531" r="9" fill="#f0a0c8"/>
<circle cx="564" cy="543" r="6" fill="#fbeef4"/>
<circle cx="624" cy="577" r="9" fill="#f0a0c8"/>
<circle cx="677" cy="482" r="9" fill="#f4c8dc"/>
<circle cx="523" cy="510" r="7" fill="#f4c8dc"/>
<circle cx="506" cy="524" r="6" fill="#fbeef4"/>
<circle cx="638" cy="574" r="11" fill="#ffffff"/>
<circle cx="494" cy="556" r="10" fill="#c84880"/>
<circle cx="604" cy="491" r="10" fill="#f0a0c8"/>
<circle cx="591" cy="543" r="10" fill="#b03870"/>
<circle cx="674" cy="500" r="8" fill="#e06090"/>
<circle cx="583" cy="523" r="7" fill="#e06090"/>
<circle cx="489" cy="496" r="9" fill="#ffffff"/>
<circle cx="599" cy="563" r="7" fill="#ffffff"/>
<circle cx="638" cy="499" r="11" fill="#b03870"/>
<circle cx="517" cy="543" r="8" fill="#e06090"/>
<circle cx="627" cy="528" r="10" fill="#c84880"/>
<circle cx="583" cy="498" r="8" fill="#c84880"/>
<circle cx="484" cy="536" r="7" fill="#f4c8dc"/>
<circle cx="632" cy="568" r="6" fill="#f0a0c8"/>
<circle cx="535" cy="556" r="8" fill="#b03870"/>
<g transform="translate(370 420) rotate(-35)"><ellipse rx="55" ry="32" fill="#c8c4b0"/><ellipse cx="10" cy="-5" rx="30" ry="15" fill="#e8e4d4"/><path d="M-55 0 L-80 -18 L-78 18Z" fill="#a8a490"/></g>
<g transform="translate(145 230) rotate(0)"><ellipse rx="38" ry="15" fill="#eef4f4"/><path d="M-38 0 L-53 -12 L-53 12Z" fill="#eef4f4"/></g>
<g transform="translate(142 285) rotate(0)"><ellipse rx="28" ry="18" fill="#e07a38"/><rect x="-6" y="-18" width="7" height="36" fill="#f4f0e8"/><path d="M-28 0 L-46 -14 L-46 14Z" fill="#e07a38"/></g>
<g transform="translate(300 300) rotate(-5)"><ellipse rx="26" ry="16" fill="#d87038"/><rect x="-5" y="-16" width="6" height="32" fill="#f0e8e0"/><path d="M-26 0 L-42 -13 L-42 13Z" fill="#d87038"/></g>
<g transform="translate(408 312) rotate(0)"><ellipse rx="24" ry="18" fill="#ece070"/><path d="M-24 0 L-42 -14 L-42 14Z" fill="#ece070"/></g>
<g transform="translate(770 253) rotate(10)"><ellipse rx="40" ry="24" fill="#e88a30"/><rect x="-8" y="-24" width="10" height="48" fill="#f8e8d0"/><path d="M-40 0 L-64 -19 L-64 19Z" fill="#e88a30"/></g>
<g transform="translate(900 290) rotate(0)"><ellipse rx="30" ry="19" fill="#d8703c"/><rect x="-6" y="-19" width="8" height="38" fill="#f0e0d0"/><path d="M-30 0 L-49 -15 L-49 15Z" fill="#d8703c"/></g>
<g transform="translate(70 346) rotate(0)"><ellipse rx="26" ry="17" fill="#d8703c"/><rect x="-5" y="-17" width="6" height="34" fill="#f0e0d0"/><path d="M-26 0 L-43 -14 L-43 14Z" fill="#d8703c"/></g>
<g transform="translate(330 178) rotate(-4)"><path d="M-108 0 Q-65 -69 16 -60 Q92 -48 108 -3 Q86 45 0 60 Q-76 54 -108 0Z" fill="url(#yfish)"/><path d="M-92 18 Q0 63 81 21 Q0 45 -92 18Z" fill="#f8f8e8"/><path d="M-38 -57 Q-49 0 -32 48" stroke="#8a7a20" stroke-width="6" fill="none" opacity="0.5"/><path d="M-108 0 L-132 -24 L-130 24Z" fill="#e8d820"/><circle cx="76" cy="-6" r="6" fill="#222"/></g>
<g transform="translate(605 342) rotate(36)"><path d="M-108 0 Q-65 -64 16 -56 Q92 -45 108 -3 Q86 42 0 56 Q-76 50 -108 0Z" fill="url(#yfish)"/><path d="M-92 17 Q0 59 81 20 Q0 42 -92 17Z" fill="#f8f8e8"/><path d="M-38 -53 Q-49 0 -32 45" stroke="#8a7a20" stroke-width="6" fill="none" opacity="0.5"/><path d="M-108 0 L-132 -22 L-130 22Z" fill="#e8d820"/><circle cx="76" cy="-6" r="6" fill="#222"/></g>
  </symbol>
  <linearGradient id="topface" gradientUnits="userSpaceOnUse" x1="185" y1="470" x2="790" y2="370">
    <stop offset="0" stop-color="#6c6c6c"/>
    <stop offset="0.35" stop-color="#5c5c5c"/>
    <stop offset="0.7" stop-color="#474747"/>
    <stop offset="1" stop-color="#333333"/>
  </linearGradient>
  <linearGradient id="topshade" gradientUnits="userSpaceOnUse" x1="0" y1="350" x2="0" y2="475">
    <stop offset="0" stop-color="#000" stop-opacity="0.06"/>
    <stop offset="1" stop-color="#fff" stop-opacity="0.02"/>
  </linearGradient>
  <linearGradient id="sideface" x1="0" y1="0" x2="0" y2="1">
    <stop offset="0" stop-color="#9a9a9a"/>
    <stop offset="0.4" stop-color="#e0e0e0"/>
    <stop offset="1" stop-color="#cfcfcf"/>
  </linearGradient>
  <linearGradient id="shell" x1="0" y1="0" x2="0" y2="1">
    <stop offset="0" stop-color="#f2f2f2"/>
    <stop offset="0.5" stop-color="#bdbdbd"/>
    <stop offset="1" stop-color="#e2e2e2"/>
  </linearGradient>
  <radialGradient id="nut" cx="0.45" cy="0.4" r="0.65">
    <stop offset="0" stop-color="#ffffff"/>
    <stop offset="0.7" stop-color="#d4d4d4"/>
    <stop offset="1" stop-color="#8a8a8a"/>
  </radialGradient>
  <g id="vgaC">
    <!-- shell (absolute coords of VGA OUT) -->
    <path d="M265.5 503.2 Q258 503.8 258.6 511 L268.2 548.5 Q269.8 556 277 555.5 L356.5 549 Q364 548.5 364.4 541 L368 503 Q368.4 495.5 361 496 Z" fill="url(#shell)"/>
    <path d="M268 508.5 Q264 509 264.5 513 L273 546 Q274 551 279 550.5 L355 544.5 Q359.5 544 360 539.5 L363 505.5 Q363.3 501.2 359 501.6 Z" fill="#121212"/>
    <path d="M267 510 L361 503 L360 512 L270 518Z" fill="#2a2a2a"/>
    <!-- insert -->
    <path d="M278 519.3 Q271.5 519.8 272.3 526 L276.2 550 Q277.2 556.7 284 556.2 L355.5 552.8 Q361.8 552.5 361.8 546 L361.2 520.5 Q361 514.2 354.7 514.6 Z" fill="#dfe6ee"/>
    <path d="M279.5 521.8 Q274.6 522.2 275.2 527 L278.8 548.6 Q279.6 553.7 284.6 553.4 L354.6 550.2 Q359.3 550 359.3 545.2 L358.8 521.6 Q358.6 516.9 353.9 517.2 Z" fill="url(#insert)"/>
    <g fill="#0c1c58">
      <circle cx="289.8" cy="525.6" r="2.8"/><circle cx="303.3" cy="524.9" r="2.8"/><circle cx="316.8" cy="524.1" r="2.8"/><circle cx="329.8" cy="523.3" r="2.8"/><circle cx="342.9" cy="522.6" r="2.8"/>
      <circle cx="297" cy="537.2" r="2.8"/><circle cx="310.5" cy="536.4" r="2.8"/><circle cx="323.6" cy="535.7" r="2.8"/><circle cx="337" cy="534.9" r="2.8"/><circle cx="350" cy="534.2" r="2.8"/>
      <circle cx="290.7" cy="548.3" r="2.8"/><circle cx="304.2" cy="547.6" r="2.8"/><circle cx="317.7" cy="546.8" r="2.8"/><circle cx="330.3" cy="546" r="2.8"/><circle cx="343.8" cy="545.3" r="2.8"/>
    </g>
  </g>
  <radialGradient id="insert" cx="0.45" cy="0.35" r="0.75">
    <stop offset="0" stop-color="#66aaee"/>
    <stop offset="1" stop-color="#4c90d8"/>
  </radialGradient>
  <g id="nutG">
    <polygon points="-0.9,0.05 -0.58,-0.76 0.36,-0.85 0.9,-0.05 0.58,0.76 -0.36,0.85" fill="#3a3a3a" stroke="#f2f2f2" stroke-width="0.19" stroke-linejoin="round"/>
    <circle r="0.64" fill="#2e2e2e" stroke="#e4e4e4" stroke-width="0.15"/>
    <ellipse cx="0.02" cy="-0.12" rx="0.4" ry="0.32" fill="#8c8c8c"/>
    <path d="M-0.45 -0.1 L0.02 0.22 L0.45 -0.16 L0.2 0.45 L-0.22 0.45Z" fill="#111"/>
    <ellipse cx="-0.33" cy="0.24" rx="0.09" ry="0.17" fill="#eee" transform="rotate(-35 -0.33 0.24)"/>
  </g>
</defs>

<rect width="1000" height="1000" fill="#fff"/>

<!-- ============ PC TOWER ============ -->
<g id="tower">
  <polygon points="165.5,51 201,26 201,182 165,175" fill="#262626"/>
  <path d="M188 44 Q194 110 189 172" stroke="#111" stroke-width="4" fill="none"/>
  <path d="M184 48 Q189 110 185 172" stroke="#3a3a3a" stroke-width="1.5" fill="none"/>
  <polygon points="201,26 262,29 262,183 201,182" fill="#3a3a3a"/>
  <path d="M203 28 L260 30.5 L260 181 L203 180Z" fill="#474747" stroke="#a0a8b0" stroke-width="1.6"/>
  <rect x="206" y="32" width="52" height="15" fill="#353535"/>
  <circle cx="207.5" cy="39.5" r="3.2" fill="#c8c8c8"/>
  <circle cx="207.5" cy="39.5" r="1.8" fill="#555"/>
  <g fill="#888"><rect x="214" y="37" width="3" height="4"/><rect x="222" y="37" width="4" height="4"/><rect x="231" y="37" width="3" height="4"/><rect x="240" y="37" width="5" height="4"/><rect x="250" y="37" width="4" height="4"/></g>
  <rect x="205.5" y="49" width="54.5" height="30.5" fill="#b0bcc4"/>
  <rect x="207" y="51" width="51" height="19" fill="#9cb0bc"/>
  <ellipse cx="222" cy="59" rx="15" ry="8" fill="#6cc0dc"/>
  <ellipse cx="220" cy="58" rx="9" ry="4.5" fill="#a8e0ec"/>
  <rect x="207" y="71" width="51" height="5.5" fill="#3f86bc"/>
  <rect x="213.5" y="83" width="35.5" height="8" fill="#5c5c5c" stroke="#7a7a7a" stroke-width="0.8"/>
  <rect x="227" y="95.5" width="7" height="2" fill="#aaa"/>
  <rect x="207" y="102.5" width="52.5" height="77.5" rx="3.5" fill="#12141e" stroke="#aab8c4" stroke-width="2.6"/>
  <ellipse cx="233" cy="139" rx="27" ry="31" fill="url(#grillglow)"/>
  <g fill="url(#barg)">
    <rect x="210.5" y="108.6" width="46" height="1.6"/><rect x="210.5" y="116" width="46" height="1.7"/>
    <rect x="210.5" y="127.5" width="46" height="1.7"/><rect x="210.5" y="138.3" width="46" height="1.7"/>
    <rect x="210.5" y="150" width="46" height="1.7"/><rect x="210.5" y="161" width="46" height="1.7"/>
    <rect x="210.5" y="174.4" width="46" height="1.6"/>
  </g>
  <g stroke="#78c8f8" stroke-width="2" opacity="0.85" fill="none" stroke-linecap="round">
    <path d="M215 121 Q224 122 231 128"/>
    <path d="M236 135 L243 126"/>
    <path d="M219 151 Q221 143 224 139"/>
    <path d="M230 147 Q238 145 242 150"/>
    <path d="M240 158 Q245 155 250 157"/>
  </g>
</g>
</g>

<!-- ============ PC MONITOR ============ -->
<g id="pcmon">
  <rect x="25" y="53.5" width="157" height="100" rx="2" fill="#141414"/>
  <use href="#aq" x="28" y="57" width="152" height="92"/>
  <polygon points="100,153 110.5,153 112,171.5 98.5,171.5" fill="#1c1c1c"/>
  <polygon points="100,153 102,153 101,171 98.5,171.5" fill="#777"/>
  <polygon points="108.5,153 110.5,153 112,171.5 109.5,171" fill="#666"/>
  <path d="M65 172 Q80 170 90 168.5 L100 167" stroke="#1e1e1e" stroke-width="2.4" fill="none" stroke-linecap="round"/>
  <path d="M110 167 L122 168.5 Q136 170.5 146.5 172" stroke="#1e1e1e" stroke-width="2.4" fill="none" stroke-linecap="round"/>
  <path d="M94 173.8 L124 173.8" stroke="#bbb" stroke-width="0.8"/>
</g>

<!-- ============ LAPTOP ============ -->
<g id="laptop">
  <rect x="388.5" y="55.5" width="132" height="82" rx="2" fill="#252527"/>
  <rect x="393.4" y="62.5" width="124" height="68" fill="url(#lapscr)"/>
  <path d="M393.4 70 Q425 66 450 78 Q466 88 468 94 Q430 84 393.4 90 Z" fill="#2a3496" opacity="0.6"/>
  <path d="M393.4 96 Q440 88 478 102 Q498 112 510 130 H498 Q470 112 430 106 Q410 104 393.4 110Z" fill="#7096dc" opacity="0.45"/>
  <path d="M393.4 116 Q440 108 470 120 L482 130.4 H393.4Z" fill="#34449e" opacity="0.5"/>
  <path d="M393.4 62.5 H517.3 V128 Q505 116 497 108 Q486 96 476 88.4 Q465 80 455 74.4 Q440 66 427 66.7 Q405 66 393.4 67.4 Z" fill="url(#lapsky)"/>
  <path d="M393.4 67.4 Q405 66 427 66.7 Q440 66 455 74.4 Q465 80 476 88.4 Q486 96 497 108 Q505 116 516 129" stroke="#b8dcf4" stroke-width="4" fill="none" opacity="0.5"/>
  <path d="M393.4 67.4 Q405 66 427 66.7 Q440 66 455 74.4 Q465 80 476 88.4 Q486 96 497 108 Q505 116 516 129" stroke="#e8f6ff" stroke-width="1.5" fill="none"/>
  <polygon points="388.5,137 520.5,137 552.5,159.5 358.5,159.5" fill="#444446"/>
  <polygon points="394,140 515,140 534,154.5 376,154.5" fill="#353537"/>
  <g stroke="#48484a" stroke-width="0.8"><line x1="390" y1="144" x2="519" y2="144"/><line x1="386" y1="148" x2="524" y2="148"/><line x1="382" y1="151.5" x2="528" y2="151.5"/></g>
  <polygon points="358.5,159.5 552.5,159.5 550,165 361,165" fill="#1c1c1c"/>
</g>
  <polygon points="358.5,159.5 552.5,159.5 550,165 361,165" fill="#141414"/>
</g>

<!-- ============ TOP LABELS/LINES ============ -->
<text x="65" y="206.8" font-size="22" fill="#5289bb" textLength="26" lengthAdjust="spacingAndGlyphs">PC</text>
<text x="306.3" y="210" font-size="22.5" fill="#6a9cba" stroke="#6a9cba" stroke-width="0.75" textLength="134.5" lengthAdjust="spacing">NOTEBOOK</text>
<path d="M119.3 191 V277.2 M448.5 193 V277.2" stroke="#5a8ab4" stroke-width="2.3" fill="none"/>
<path d="M118.2 276.4 H449.6" stroke="#587c88" stroke-width="2" fill="none"/>
<rect x="228" y="229.5" width="69.5" height="35.5" fill="#2c8ee0" stroke="#1f72c4" stroke-width="1"/>
<text x="235.5" y="254.6" font-size="21.5" font-weight="bold" fill="#fff" stroke="#fff" stroke-width="0.7" textLength="56" lengthAdjust="spacingAndGlyphs">Input</text>

<!-- ============ INPUT purple ============ -->

<path d="M297.4 289.5 L305.3 278.2 L313.7 290.3" stroke="#7560b0" stroke-width="1.9" fill="none" stroke-linejoin="round"/>
<text x="352.3" y="333.8" font-size="22" fill="#b01c2c" stroke="#b01c2c" stroke-width="0.5" textLength="66.5" lengthAdjust="spacingAndGlyphs">INPUT</text>

<!-- ============ DEVICE ============ -->
<g id="device">
  <polygon points="168,377.6 697.5,344 812,428 189,473" fill="url(#topface)"/>
  <polygon points="168,377.6 697.5,344 812,428 189,473" fill="url(#topshade)"/>
  <polygon points="168,377.6 189,473 193,540 197,585 191,575 185,545 172,450" fill="url(#sideface)"/>
  <rect x="171.5" y="461" width="11" height="37" rx="5" fill="#111"/>
  <polygon points="189,473 812,428 806.5,549.5 198.5,602.5" fill="#1a1818"/>
  <polygon points="189,473 812,428 812,430 189,475" fill="#232323"/>
  <!-- connectors -->
  <use href="#vgaC"/>
  <use href="#vgaC" transform="matrix(0.94 0 0 1 216.95 -15.5)"/>
  <use href="#vgaC" transform="matrix(0.9 0 0 0.936 422.45 2.57)"/>
  <use href="#nutG" transform="translate(243 540) scale(14.5 13.5)"/>
  <use href="#nutG" transform="translate(388.8 528.2) scale(12.6 12)"/>
  <use href="#nutG" transform="translate(444.6 523) scale(12 11.5)"/>
  <use href="#nutG" transform="translate(583 512.5) scale(11.5 11)"/>
  <use href="#nutG" transform="translate(639.8 508.1) scale(12.6 12)"/>
  <use href="#nutG" transform="translate(772 496.4) scale(12 11.5)"/>
  <text x="290" y="579" font-size="10.5" font-weight="bold" fill="#e4e4e4" letter-spacing="0.9" transform="rotate(-2.5 316 575)">VGA OUT</text>
  <text x="487.5" y="561" font-size="10" font-weight="bold" fill="#e4e4e4" letter-spacing="0.7" transform="rotate(-2.5 512 557)">VGA IN 2</text>
  <text x="676.5" y="545" font-size="10" font-weight="bold" fill="#e4e4e4" letter-spacing="0.6" transform="rotate(-2.5 700 541)">VGA IN 1</text>
  <!-- purple boxes -->
  <path d="M305.5 279 V350.5 H508.5 V464" stroke="#8060cc" stroke-width="3" fill="none"/>
  <rect x="212.2" y="472.5" width="191.8" height="118.3" fill="none" stroke="#9272e0" stroke-width="3.2"/>
  <rect x="418" y="464.3" width="367.6" height="103.7" fill="none" stroke="#9272e0" stroke-width="3.2"/>
</g>

<!-- ============ OUTPUT ============ -->
<path d="M373.9 591 V707" stroke="#8060cc" stroke-width="3" fill="none"/>
<path d="M365.4 695.6 L373.8 707.8 L382.2 695.6" stroke="#7560b0" stroke-width="2" fill="none" stroke-linejoin="round"/>
<text x="396.5" y="695.5" font-size="23" fill="#b01c2c" stroke="#b01c2c" stroke-width="0.45" textLength="91" lengthAdjust="spacingAndGlyphs">OUTPUT</text>
<path d="M146.8 792.5 V706 M820 792.5 V706 M461 792.5 V706" stroke="#5288b4" stroke-width="2.4" fill="none"/>
<path d="M145.6 706.9 H821.2" stroke="#55809f" stroke-width="2.3" fill="none"/>
<text x="159" y="783" font-size="23" font-weight="bold" fill="#2a6fa6">TV</text>
<text x="480.5" y="779.5" font-size="21" fill="#3f7caa" textLength="40" lengthAdjust="spacingAndGlyphs">LCD</text>
<text x="831.3" y="785" font-size="22.5" fill="#6a9cba" stroke="#6a9cba" stroke-width="0.75" textLength="146" lengthAdjust="spacing">PROJECTOR</text>

<!-- ============ TV ============ -->
<g id="tv">
  <rect x="41.2" y="814.4" width="215" height="125" rx="1" fill="#262626"/>
  <use href="#aq" x="43.6" y="817" width="210.2" height="118.4"/>
  <rect x="141.5" y="938" width="15" height="8" fill="#1a1a1a"/>
  <polygon points="100,944 198,944 201,952 97,952" fill="#222"/>
</g>

<!-- ============ LCD ============ -->
<g id="lcd">
  <polygon points="399,836.3 541,799 536,950 391,940" fill="#161616"/>
  <clipPath id="lcdT1"><polygon points="401,838 538,802 538.3,802.4 395.3,936.4 395,936"/></clipPath>
  <clipPath id="lcdT2"><polygon points="401,838 538,802 534,939 395,936"/></clipPath>
  <g clip-path="url(#lcdT2)"><use href="#aq" width="1000" height="600" transform="matrix(0.139 0.003 -0.00667 0.22833 399 799)"/></g>
  <g clip-path="url(#lcdT1)"><g opacity="0.999"><use href="#aq" width="1000" height="600" transform="matrix(0.137 -0.036 -0.01 0.16333 401 838)"/></g></g>
  <polygon points="392.5,935.5 531,939 531,948 392.5,941.5" fill="url(#bezel)"/>
  <path d="M464.5 943 Q463.5 952 466 957 Q470 961 476 962" stroke="#c4c4c4" stroke-width="2.6" fill="none"/>
  <ellipse cx="456" cy="967.5" rx="39" ry="7.5" fill="#d2d2d2"/>
  <ellipse cx="456" cy="968.5" rx="36" ry="5.5" fill="#e8e8e8"/>
  <path d="M425 965 Q440 960 470 960 Q486 961 488 965 Q470 963 456 963 Q438 963 425 965Z" fill="#4a4a4a"/>
  <rect x="455" y="958.5" width="12" height="4.5" rx="1" fill="#222"/>
</g>

<!-- ============ PROJECTOR ============ -->
<g id="proj">
  <path d="M722 823.5 L886 822.5 Q892 823 893 829 L899 879 L706 882 Q707 868 712 850 L716 830 Q717 824 722 823.5Z" fill="url(#projtop)"/>
  <path d="M886 822.5 Q894 824 896 832 L899.5 932 Q899 938 894 938 L898 880 Z" fill="#dedede"/>
  <path d="M706 881 L899 878.5 L899 932 Q899 938 892 938 L712 938 Q705 938 705 931 Z" fill="url(#projfront)"/>
  <path d="M706 881 L899 878.5" stroke="#d4d4d4" stroke-width="1.2" fill="none"/>
  <rect x="797.5" y="891.5" width="60" height="43" fill="#f2f2f2" stroke="#d8d8d8" stroke-width="0.8"/>
  <g fill="#7c7c7c"><rect x="800.8" y="893" width="2.6" height="40" rx="1"/><rect x="807.1" y="893" width="2.6" height="40" rx="1"/><rect x="813.4" y="893" width="2.6" height="40" rx="1"/><rect x="819.7" y="893" width="2.6" height="40" rx="1"/><rect x="826.0" y="893" width="2.6" height="40" rx="1"/><rect x="832.3" y="893" width="2.6" height="40" rx="1"/><rect x="838.6" y="893" width="2.6" height="40" rx="1"/><rect x="844.9" y="893" width="2.6" height="40" rx="1"/><rect x="851.2" y="893" width="2.6" height="40" rx="1"/></g>
  <path d="M721 852 Q721 846 740 846 Q760 846 760 852 L760 882 L721 884 Z" fill="#fbfbfb"/>
  <path d="M752 847 Q760 848 760 852 L760 882 L752 882Z" fill="#e6e6e6"/>
  <ellipse cx="745" cy="834.5" rx="11" ry="5.6" fill="#fff" stroke="#b8b8b8" stroke-width="1.2"/>
  <ellipse cx="745" cy="834" rx="7" ry="3" fill="#f0f0f0"/>
  <circle cx="763" cy="834" r="0.9" fill="#bbb"/><circle cx="774" cy="835" r="0.9" fill="#bbb"/>
  <ellipse cx="739" cy="913" rx="35.5" ry="33" fill="#f4f4f4"/>
  <ellipse cx="739" cy="913" rx="35.5" ry="33" fill="none" stroke="#d0d0d0" stroke-width="1"/>
  <ellipse cx="740" cy="916" rx="30" ry="27" fill="#161616"/>
  <ellipse cx="739" cy="914" rx="22.5" ry="19.5" fill="#3c4238"/>
  <ellipse cx="739" cy="912" rx="19" ry="15" fill="none" stroke="#7a8a74" stroke-width="2.2"/>
  <ellipse cx="739" cy="916" rx="16" ry="10" fill="none" stroke="#8e9c88" stroke-width="1.6"/>
  <ellipse cx="739" cy="913" rx="10" ry="7" fill="#242a24"/>
  <circle cx="782" cy="924" r="4.8" fill="#f8f8f8" stroke="#ccc" stroke-width="0.8"/>
  <circle cx="782" cy="924" r="3.2" fill="#1a1a1a"/>
</g>
</svg>
</body></html>
